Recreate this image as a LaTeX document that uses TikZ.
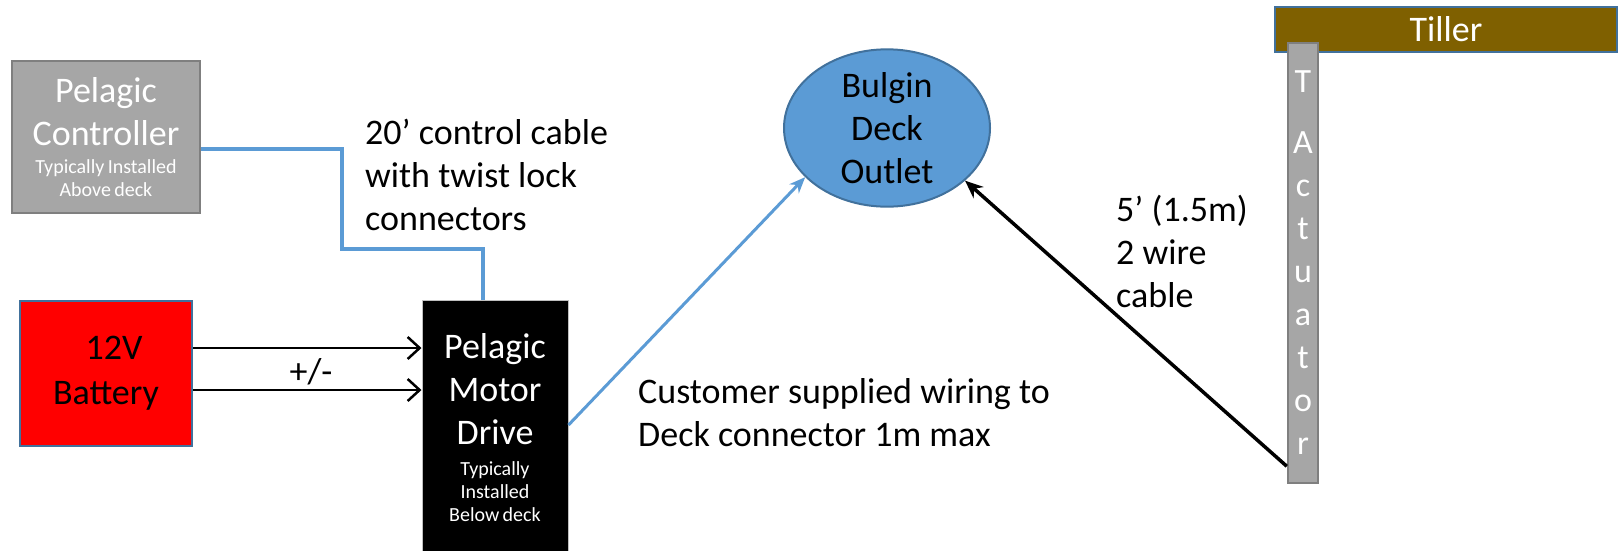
\documentclass[tikz,border=0pt]{standalone}
\usepackage{fontspec}
\setmainfont{Carlito}
\usetikzlibrary{arrows.meta,shapes.geometric}
\definecolor{ctrlgray}{HTML}{A6A6A6}
\definecolor{edgegray}{HTML}{7F7F7F}
\definecolor{boxblue}{HTML}{41719C}
\definecolor{wireblue}{HTML}{5B9BD5}
\definecolor{tillerbrown}{HTML}{7F6000}
\newcommand\fbig{\fontsize{36}{43}\selectfont}
\newcommand\fsmall{\fontsize{20}{23}\selectfont}
\newcommand\fact{\fontsize{34}{43}\selectfont}
\begin{document}
\begin{tikzpicture}[x=1pt,y=-1pt,
  boxnode/.style={rectangle, inner sep=0pt, align=center},
  lbl/.style={anchor=north west, inner sep=0pt, align=left, font=\fbig},
  bluewire/.style={wireblue, line width=3.3pt},
  powerarrow/.style={black, line width=2.5pt, -{Straight Barb[length=12pt,width=22pt]}},
]
\fill[white] (0,0) rectangle (1619,550);
\useasboundingbox (0,0) rectangle (1619,550);

% boxes
\node[boxnode, fill=ctrlgray, draw=edgegray, line width=2pt, minimum width=188pt, minimum height=152pt, text width=180pt, text=white] (ctrl) at (106,137)
  {{\fbig Pelagic\\Controller\par}\vspace{5pt}{\fsmall Typically Installed\\Above deck\par}};
\node[boxnode, fill=red, draw=boxblue, line width=2pt, minimum width=172pt, minimum height=145pt, text width=166pt, font=\fontsize{36}{39}\selectfont] (batt) at (106,373.5)
  {\vspace{6pt}\hspace*{16pt}12V\\Battery};
\node[boxnode, fill=black, draw=black!25, line width=1pt, minimum width=146pt, minimum height=256pt, text width=140pt, text=white] (motor) at (495,428)
  {{\fbig Pelagic\\Motor\\Drive\par}\vspace{8pt}{\fsmall Typically\\Installed\\Below deck\par}};
\node[ellipse, fill=wireblue, draw=boxblue, line width=2pt, minimum width=206pt, minimum height=144pt, inner sep=0pt, align=center, font=\fbig] (outlet) at (887,128)
  {Bulgin\\Deck\\Outlet};
\node[boxnode, fill=tillerbrown, draw=boxblue, line width=2pt, minimum width=342pt, minimum height=45pt, text=white, font=\fbig] (tiller) at (1446,29.5) {Tiller};
\node[boxnode, fill=ctrlgray, draw=edgegray, line width=2.5pt, minimum width=30pt, minimum height=440pt, text=white, font=\fact] (act) at (1303,263)
  {T\\[18pt]A\\c\\t\\u\\a\\t\\o\\r};

% labels
\node[lbl] (cablelbl) at (365,119) {20’ control cable\\with twist lock\\connectors};
\node[lbl] (custlbl) at (638,378) {Customer supplied wiring to\\Deck connector 1m max};
\node[lbl] (wirelbl) at (1116,195) {5’ (1.5m)\\2 wire\\cable};
\node[anchor=base, inner sep=0pt, font=\fbig] (pm) at (311,383) {+/-};

% connectors
\coordinate (bend) at (342,249);
\draw[bluewire] ([yshift=-12pt]ctrl.east) -| (bend) -| ([xshift=-12pt]motor.north);
\draw[powerarrow] (batt.east |- 0,348) -- (motor.west |- 0,348);
\draw[powerarrow] (batt.east |- 0,390) -- (motor.west |- 0,390);
\draw[wireblue, line width=3pt, -{Stealth[length=16pt,width=13pt]}] ([yshift=3pt]motor.east) -- (outlet.211);
\draw[black, line width=3.5pt, -{Stealth[length=18pt,width=15pt]}] ([yshift=18pt]act.south west) -- (outlet.326);
\end{tikzpicture}
\end{document}
